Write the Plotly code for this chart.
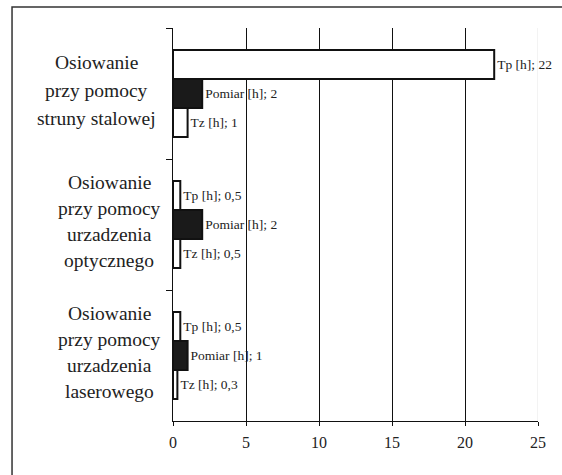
import plotly.graph_objects as go

# ---- data ----
category_lines = [
    ["Osiowanie", "przy pomocy", "struny stalowej"],
    ["Osiowanie", "przy pomocy", "urzadzenia", "optycznego"],
    ["Osiowanie", "przy pomocy", "urzadzenia", "laserowego"],
]
categories = [" ".join(l) for l in category_lines]
series_names = ["Tp [h]", "Pomiar [h]", "Tz [h]"]
tp_values = [22, 0.5, 0.5]
pomiar_values = [2, 2, 1]
tz_values = [1, 0.5, 0.3]
tick_values = [0, 5, 10, 15, 20, 25]

FONT = "Liberation Serif, Times New Roman, serif"


def fmt(v):
    return str(v).replace(".", ",")


fig = go.Figure()
series = [
    (series_names[0], tp_values, "white"),
    (series_names[1], pomiar_values, "#1a1a1a"),
    (series_names[2], tz_values, "white"),
]
for name, vals, fill in series:
    fig.add_trace(go.Bar(
        y=categories, x=vals, orientation="h", name=name,
        marker=dict(color=fill, line=dict(color="#111111", width=2)),
        text=[f"{name}; {fmt(v)}" for v in vals],
        textposition="outside", cliponaxis=False,
        constraintext="none",
        textfont=dict(family=FONT, size=13.5, color="#222222"),
        showlegend=False,
    ))

# category labels (multi-line, wide line spacing)
group_xshift = [-77, -64, -64]
group_spacing = [28, 25.7, 25.7]
annotations = []
for cat, lines, xs, sp in zip(categories, category_lines, group_xshift, group_spacing):
    n = len(lines)
    for i, line in enumerate(lines):
        off = ((n - 1) / 2 - i) * sp + 3
        annotations.append(dict(
            x=0, y=cat, xref="x", yref="y", text=line, showarrow=False,
            xanchor="center", yanchor="middle", xshift=xs, yshift=off,
            font=dict(family=FONT, size=19.5, color="#222222"),
        ))

shapes = [
    # faint line at the axis end
    dict(type="line", xref="x", yref="y domain", x0=tick_values[-1], x1=tick_values[-1], y0=0, y1=1,
         line=dict(color="#e6e6e6", width=1), layer="below"),
    # outer frame
    dict(type="rect", xref="paper", yref="paper", x0=-0.441, x1=1.3, y0=-0.3, y1=1.0534,
         line=dict(color="#333333", width=1.5), fillcolor="rgba(0,0,0,0)", layer="below"),
]

fig.update_layout(
    width=562, height=475,
    margin=dict(l=173, r=24, t=28, b=54),
    paper_bgcolor="white", plot_bgcolor="white",
    barmode="group", bargap=0.336, bargroupgap=0,
    annotations=annotations, shapes=shapes,
    font=dict(family=FONT, color="#222222"),
)
fig.update_xaxes(
    range=[0, 25], tickvals=tick_values, ticks="outside", ticklen=4, tickcolor="#111111",
    showline=True, linecolor="#111111", linewidth=1,
    showgrid=False, zeroline=False, ticklabelstandoff=3,
    minor=dict(tickvals=tick_values[1:-1], showgrid=True, gridcolor="#111111", gridwidth=1),
    tickfont=dict(family=FONT, size=16, color="#222222"),
)
fig.update_yaxes(
    type="category", autorange="reversed", showline=True, linecolor="#111111", linewidth=1,
    ticks="outside", tickson="boundaries", ticklen=6, tickcolor="#111111",
    showticklabels=False, showgrid=False,
)

fig.write_html("out.html", config={"displayModeBar": False},
               post_script="document.body.style.margin='0';document.body.style.overflow='hidden';")
